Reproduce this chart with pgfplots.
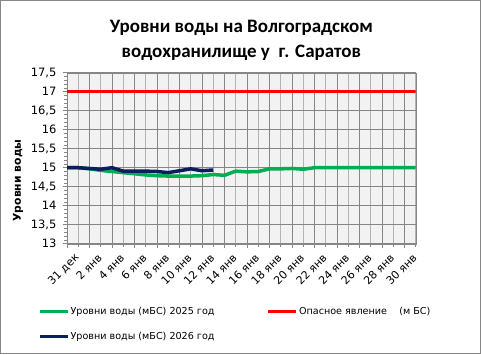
\documentclass[border=0pt]{standalone}
\usepackage{fontspec}
\setmainfont{DejaVu Sans}
\newfontfamily\titlefont{Carlito}
\usepackage{pgfplots}
\pgfplotsset{compat=1.18}
\definecolor{g25}{HTML}{00B050}
\definecolor{n26}{HTML}{0A1F5C}
\definecolor{majg}{HTML}{868686}
\definecolor{ming}{HTML}{B4B4B4}
\begin{document}
\begin{tikzpicture}[x=1pt,y=1pt]
\useasboundingbox (0,0) rectangle (481,354);
\draw[color=majg, line width=1pt] (0.5,0.5) rectangle (480.5,353.5);
\begin{axis}[
  at={(67pt,110.3pt)}, anchor=south west,
  scale only axis, width=348.7pt, height=171pt,
  xmin=0, xmax=31, ymin=13, ymax=17.5,
  axis background/.style={fill=black!5},
  axis line style={color=majg},
  xtick={0,2,...,30},
  xticklabels={31 дек,2 янв,4 янв,6 янв,8 янв,10 янв,12 янв,14 янв,16 янв,18 янв,20 янв,22 янв,24 янв,26 янв,28 янв,30 янв},
  minor xtick={1,3,...,31},
  ytick={13,13.5,...,17.5},
  minor y tick num=4,
  xmajorgrids, xminorgrids, ymajorgrids,
  major grid style={color=majg, line width=0.8pt},
  minor x grid style={color=ming, line width=0.8pt},
  tick align=outside, tick pos=left,
  major tick length=4pt, minor tick length=3pt,
  tick style={color=majg, line width=0.7pt},
  /pgf/number format/assume math mode=true,
  /pgf/number format/use comma,
  /pgf/number format/1000 sep={},
  yticklabel style={font=\fontsize{11.5}{13}\selectfont, xshift=-3pt},
  xticklabel style={font=\fontsize{11}{13}\selectfont, rotate=45, anchor=east, xshift=5pt, yshift=-13pt},
  ylabel={Уровни воды},
  ylabel style={font=\bfseries\fontsize{10.8}{13}\selectfont, at={(rel axis cs:-0.14,0.37)}, anchor=center},
  title={Уровни воды на Волгоградском\\водохранилище у~ г. Саратов},
  title style={font=\titlefont\bfseries\fontsize{19}{25}\selectfont, align=center, at={(rel axis cs:0.5,1.0)}, anchor=south, yshift=3pt},
  legend columns=2,
  legend cell align=left,
  legend style={at={(rel axis cs:-0.092,-0.347)}, anchor=north west, draw=none, fill=none,
    font=\fontsize{9.6}{12}\selectfont,
    /tikz/every even column/.append style={column sep=51pt},
    row sep=12pt, nodes={inner xsep=1pt}},
  legend image code/.code={\draw[#1] (0pt,0pt) -- (28pt,0pt);},
]
\addplot[color=g25, line width=3.5pt] coordinates {
(0,15.00) (1,15.00) (2,14.97) (3,14.93) (4,14.90) (5,14.87) (6,14.84) (7,14.81)
(8,14.79) (9,14.78) (10,14.78) (11,14.78) (12,14.79) (13,14.82) (14,14.80)
(15,14.91) (16,14.89) (17,14.90) (18,14.97) (19,14.97) (20,14.98) (21,14.96)
(22,15.00) (23,15.00) (24,15.00) (25,15.00) (26,15.00) (27,15.00) (28,15.00)
(29,15.00) (30,15.00) (31,15.00)};
\addlegendentry{Уровни воды (мБС)\ 2025 год}
\addplot[color=red, line width=3.5pt] coordinates {(0,17) (31,17)};
\addlegendentry{Опасное явление\ \ \ \ (м БС)}
\addplot[color=n26, line width=3.5pt] coordinates {
(0,15.00) (1,15.00) (2,14.98) (3,14.96) (4,15.00) (5,14.91) (6,14.91) (7,14.91)
(8,14.90) (9,14.87) (10,14.92) (11,14.97) (12,14.92) (13,14.94)};
\addlegendentry{Уровни воды (мБС)\ 2026 год}
\end{axis}
\end{tikzpicture}
\end{document}
